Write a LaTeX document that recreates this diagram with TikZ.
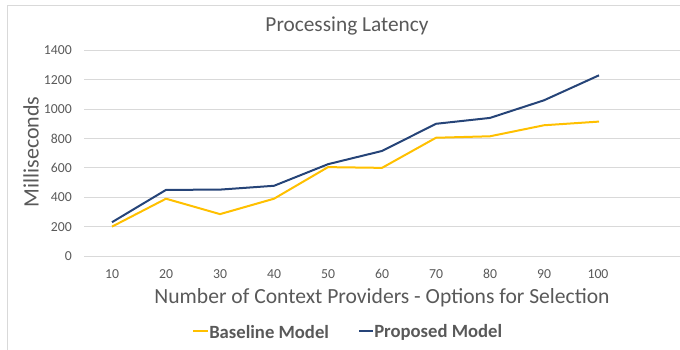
\documentclass[tikz,border=0pt]{standalone}
\usepackage{fontspec}
\setmainfont{Carlito}
\definecolor{txt}{RGB}{89,89,89}
\definecolor{grid}{RGB}{217,217,217}
\definecolor{frame}{RGB}{217,217,217}
\definecolor{base}{RGB}{255,192,0}
\definecolor{prop}{RGB}{38,68,120}
\begin{document}
\begin{tikzpicture}[x=0.75pt,y=-0.75pt,
  gridline/.style={draw=grid,line width=0.75pt},
  ticklbl/.style={text=txt,font=\fontsize{10.3}{12}\selectfont,inner sep=0pt},
  series/.style={line width=1.5pt,line join=round},
  legtxt/.style={text=txt,font=\fontsize{14}{16}\selectfont\bfseries,inner sep=0pt,anchor=west}]
\useasboundingbox (0,0) rectangle (680,349);
\begin{scope}
\clip (0,0) rectangle (680,349);
\draw[draw=frame,line width=0.75pt] (7,6) rectangle (690,360);
\end{scope}
% gridlines and y tick labels
\foreach \v in {0,200,...,1400}{
  \draw[gridline] (84,{256-0.1469*\v}) -- (680,{256-0.1469*\v});
  \node[ticklbl,anchor=east] (y\v) at (72,{256-0.1469*\v}) {\v};
}
% x tick labels
\foreach \c [count=\i from 0] in {10,20,...,100}{
  \node[ticklbl] (x\c) at ({112+54*\i},274) {\c};
}
% series
\draw[series,base] (112,{256-0.1469*200}) -- (166,{256-0.1469*390}) -- (220,{256-0.1469*285}) -- (274,{256-0.1469*390}) -- (328,{256-0.1469*605}) -- (382,{256-0.1469*600}) -- (436,{256-0.1469*805}) -- (490,{256-0.1469*815}) -- (544,{256-0.1469*890}) -- (599,{256-0.1469*915});
\draw[series,prop] (112,{256-0.1469*230}) -- (166,{256-0.1469*450}) -- (220,{256-0.1469*452}) -- (274,{256-0.1469*478}) -- (328,{256-0.1469*625}) -- (382,{256-0.1469*715}) -- (436,{256-0.1469*900}) -- (490,{256-0.1469*940}) -- (544,{256-0.1469*1060}) -- (599,{256-0.1469*1230});
% titles
\node[text=txt,font=\fontsize{16}{18}\selectfont,inner sep=0pt] (title) at (347,26) {Processing Latency};
\node[text=txt,font=\fontsize{16.5}{18}\selectfont,inner sep=0pt,rotate=90] (ytitle) at (31,152) {Milliseconds};
\node[text=txt,font=\fontsize{16.2}{18}\selectfont,inner sep=0pt] (xtitle) at (382,298) {Number of Context Providers - Options for Selection};
% legend
\coordinate (l1a) at (193,331);
\coordinate (l1b) at (208,331);
\draw[series,base] (l1a) -- (l1b);
\node[legtxt] (leg1) at (209,332) {Baseline Model};
\coordinate (l2a) at (359,331);
\coordinate (l2b) at (373,331);
\draw[series,prop] (l2a) -- (l2b);
\node[legtxt] (leg2) at (374,332) {Proposed Model};
\end{tikzpicture}
\end{document}
